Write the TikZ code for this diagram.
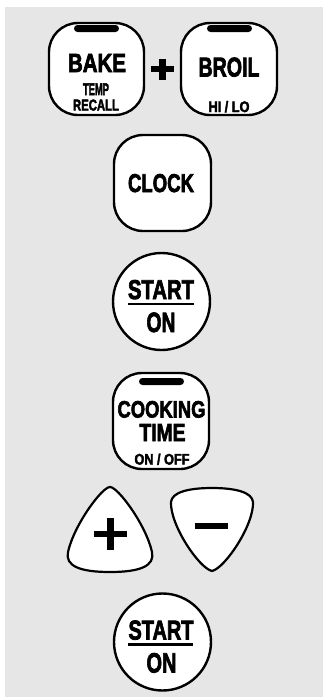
\documentclass[tikz,border=0pt]{standalone}
\usepackage{fontspec}
\usepackage{graphicx}
\setmainfont{Liberation Sans}[BoldFeatures={FakeBold=3}]
\newcommand{\fitlbl}[3]{\resizebox{#1pt}{#2pt}{\bfseries #3}}
\definecolor{panel}{HTML}{E6E6E6}
\tikzset{
  sqbtn/.style={draw=black, fill=white, line width=2.4pt, rounded corners=29pt, inner sep=0pt},
  rdbtn/.style={draw=black, fill=white, line width=2.4pt, circle, inner sep=0pt, minimum size=97pt},
  lbl/.style={anchor=base, inner sep=0pt, outer sep=0pt, text=black},
  indbar/.style={fill=black, rounded corners=3.5pt, inner sep=0pt, minimum width=45pt, minimum height=7pt},
  signbar/.style={fill=black, inner sep=0pt},
  padshape/.style={draw=black, fill=white, line width=2.2pt}
}
\begin{document}
\begin{tikzpicture}[x=1pt,y=-1pt]
\useasboundingbox (0,0) rectangle (323,697);
\fill[panel] (5,7) rectangle (323,697);

% BAKE + BROIL
\node[sqbtn, minimum width=95pt, minimum height=92pt] (bake) at (96.5,69) {};
\node[indbar] (bakebar) at (96.5,28.5) {};
\node[lbl] (baket) at (97,72) {\fitlbl{58}{18}{BAKE}};
\node[lbl] (temp) at (96,95) {\fitlbl{26}{11.5}{TEMP}};
\node[lbl] (recall) at (96,110.5) {\fitlbl{46}{11}{RECALL}};

\node[signbar, minimum width=23pt, minimum height=6.5pt] (plush) at (162.5,69) {};
\node[signbar, minimum width=6.5pt, minimum height=21pt] (plusv) at (162.5,69) {};

\node[sqbtn, minimum width=96pt, minimum height=92pt] (broil) at (229,69) {};
\node[indbar] (broilbar) at (229.5,28.5) {};
\node[lbl] (broilt) at (229,76.5) {\fitlbl{61}{19}{BROIL}};
\node[lbl] (hilo) at (229,112) {\fitlbl{41}{11}{HI / LO}};

% CLOCK
\node[sqbtn, minimum width=97pt, minimum height=96pt] (clock) at (162.5,183) {};
\node[lbl] (clockt) at (161,192) {\fitlbl{66}{18}{CLOCK}};

% START / ON (1)
\node[rdbtn] (start1) at (161.5,301.5) {};
\node[lbl] (start1t) at (161,299) {\fitlbl{66}{19}{START}};
\draw[line width=2.4pt] (start1t.base west) ++(0,5) coordinate (u1a) -- ++(66,0) coordinate (u1b);
\node[lbl] (on1) at (161,332) {\fitlbl{29}{19.5}{ON}};

% COOKING TIME
\node[sqbtn, minimum width=96pt, minimum height=96pt] (cook) at (161,421) {};
\node[indbar] (cookbar) at (161.5,381.5) {};
\node[lbl] (cookt) at (161.5,417.5) {\fitlbl{88}{16.5}{COOKING}};
\node[lbl] (timet) at (162.5,441) {\fitlbl{46}{17}{TIME}};
\node[lbl] (onoff) at (162,464.5) {\fitlbl{55}{11}{ON / OFF}};

% + pad
\draw[padshape] (110,487) .. controls (118,487) and (146,525) .. (152,552)
  .. controls (155,566) and (140,572) .. (110,572)
  .. controls (80,572) and (65,566) .. (68,552)
  .. controls (74,525) and (102,487) .. (110,487) -- cycle;
\node[signbar, minimum width=33pt, minimum height=6.5pt] (padplush) at (110.5,534) {};
\node[signbar, minimum width=6.5pt, minimum height=32pt] (padplusv) at (110.5,534) {};

% - pad
\draw[padshape] (212,488) .. controls (235,488) and (252,492) .. (253,502)
  .. controls (254,525) and (225,568) .. (212,571)
  .. controls (199,568) and (170,525) .. (171,502)
  .. controls (172,492) and (189,488) .. (212,488) -- cycle;
\node[signbar, minimum width=33pt, minimum height=6.5pt] (padminus) at (211.5,526) {};

% START / ON (2)
\node[rdbtn] (start2) at (162.5,642) {};
\node[lbl] (start2t) at (161,639.5) {\fitlbl{65}{19}{START}};
\draw[line width=2.4pt] (start2t.base west) ++(0,5) coordinate (u2a) -- ++(65,0) coordinate (u2b);
\node[lbl] (on2) at (161.5,672.5) {\fitlbl{30}{19.5}{ON}};
\end{tikzpicture}
\end{document}
